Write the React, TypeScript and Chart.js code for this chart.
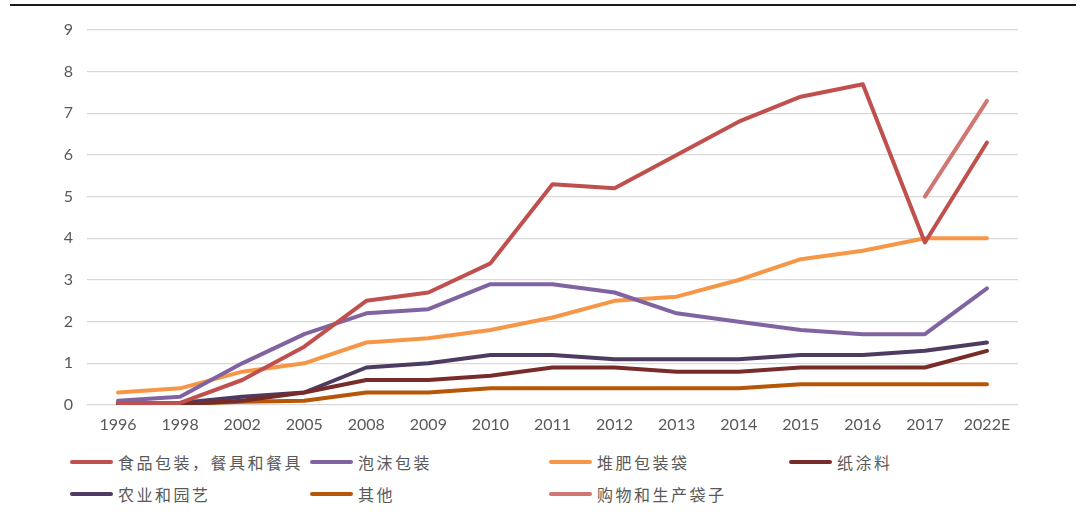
import React, { useEffect, useRef } from "react";
import { Chart, registerables } from "chart.js";

Chart.register(...registerables);

const categories = ["1996", "1998", "2002", "2005", "2008", "2009", "2010", "2011", "2012", "2013", "2014", "2015", "2016", "2017", "2022E"];
const foodPackaging = [0.05, 0.05, 0.6, 1.4, 2.5, 2.7, 3.4, 5.3, 5.2, 6.0, 6.8, 7.4, 7.7, 3.9, 6.3];
const foamPackaging = [0.1, 0.2, 1.0, 1.7, 2.2, 2.3, 2.9, 2.9, 2.7, 2.2, 2.0, 1.8, 1.7, 1.7, 2.8];
const compostBags = [0.3, 0.4, 0.8, 1.0, 1.5, 1.6, 1.8, 2.1, 2.5, 2.6, 3.0, 3.5, 3.7, 4.0, 4.0];
const paperCoating = [0.02, 0.02, 0.1, 0.3, 0.6, 0.6, 0.7, 0.9, 0.9, 0.8, 0.8, 0.9, 0.9, 0.9, 1.3];
const agriculture = [0.05, 0.05, 0.2, 0.3, 0.9, 1.0, 1.2, 1.2, 1.1, 1.1, 1.1, 1.2, 1.2, 1.3, 1.5];
const others = [0.02, 0.02, 0.08, 0.1, 0.3, 0.3, 0.4, 0.4, 0.4, 0.4, 0.4, 0.5, 0.5, 0.5, 0.5];
const shoppingBags = [null, null, null, null, null, null, null, null, null, null, null, null, null, 5.0, 7.3];

const seriesNames = ["食品包装，餐具和餐具", "泡沫包装", "堆肥包装袋", "纸涂料", "农业和园艺", "其他", "购物和生产袋子"];
const seriesColors = ["#C0504D", "#8064A2", "#F79646", "#772C2A", "#4D3B62", "#B65708", "#D07673"];
const seriesData = [foodPackaging, foamPackaging, compostBags, paperCoating, agriculture, others, shoppingBags];
const yTicks = [0, 1, 2, 3, 4, 5, 6, 7, 8, 9];

const legendPos = [
  [70, 462], [310, 462], [549, 462], [789, 462],
  [70, 494], [310, 494], [549, 494],
];

export default function App() {
  const ref = useRef<HTMLCanvasElement>(null);
  useEffect(() => {
    document.body.style.margin = "0";
    const ctx = ref.current!;
    const chart = new Chart(ctx, {
      type: "line",
      data: {
        labels: categories,
        datasets: seriesData.map((d, i) => ({
          label: seriesNames[i],
          data: d as any,
          borderColor: seriesColors[i],
          backgroundColor: seriesColors[i],
          borderWidth: 4,
          pointRadius: 0,
          tension: 0,
          spanGaps: false,
          borderCapStyle: "round" as const,
          borderJoinStyle: "round" as const,
        })),
      },
      options: {
        animation: false,
        responsive: false,
        maintainAspectRatio: false,
        layout: { padding: { left: 0, right: 62, top: 30, bottom: 0 } },
        plugins: { legend: { display: false }, tooltip: { enabled: false } },
        scales: {
          x: {
            offset: true,
            grid: { display: false, drawTicks: false },
            border: { display: false },
            ticks: { color: "#595959", font: { family: "Lato", size: 16 }, padding: 10, maxRotation: 0, autoSkip: false },
            afterFit: (s: any) => { s.height = 35; },
          },
          y: {
            min: 0,
            max: 9,
            afterBuildTicks: (s: any) => { s.ticks = yTicks.map((v) => ({ value: v })); },
            grid: { color: "#D9D9D9", lineWidth: 1.3, drawTicks: false },
            border: { display: false },
            ticks: { color: "#595959", font: { family: "Lato", size: 16 }, padding: 14 },
            afterFit: (s: any) => { s.width = 87; },
          },
        },
      },
    });
    return () => chart.destroy();
  }, []);

  return (
    <div style={{ position: "relative", width: 1080, height: 525, background: "#fff", overflow: "hidden" }}>
      <div style={{ position: "absolute", left: 10, top: 4, width: 1066, height: 2, background: "#1a1a1a" }} />
      <canvas ref={ref} width={1080} height={440} style={{ position: "absolute", left: 0, top: 0, width: 1080, height: 440 }} />
      {seriesNames.map((n, i) => (
        <div key={n} style={{ position: "absolute", left: legendPos[i][0], top: legendPos[i][1] - 12, height: 24, display: "flex", alignItems: "center" }}>
          <div style={{ width: 43, height: 4, borderRadius: 2, background: seriesColors[i], marginRight: 5 }} />
          <span style={{ fontFamily: "'Noto Sans CJK SC'", fontSize: 16, color: "#595959", letterSpacing: 2.5, whiteSpace: "nowrap" }}>{n}</span>
        </div>
      ))}
    </div>
  );
}
